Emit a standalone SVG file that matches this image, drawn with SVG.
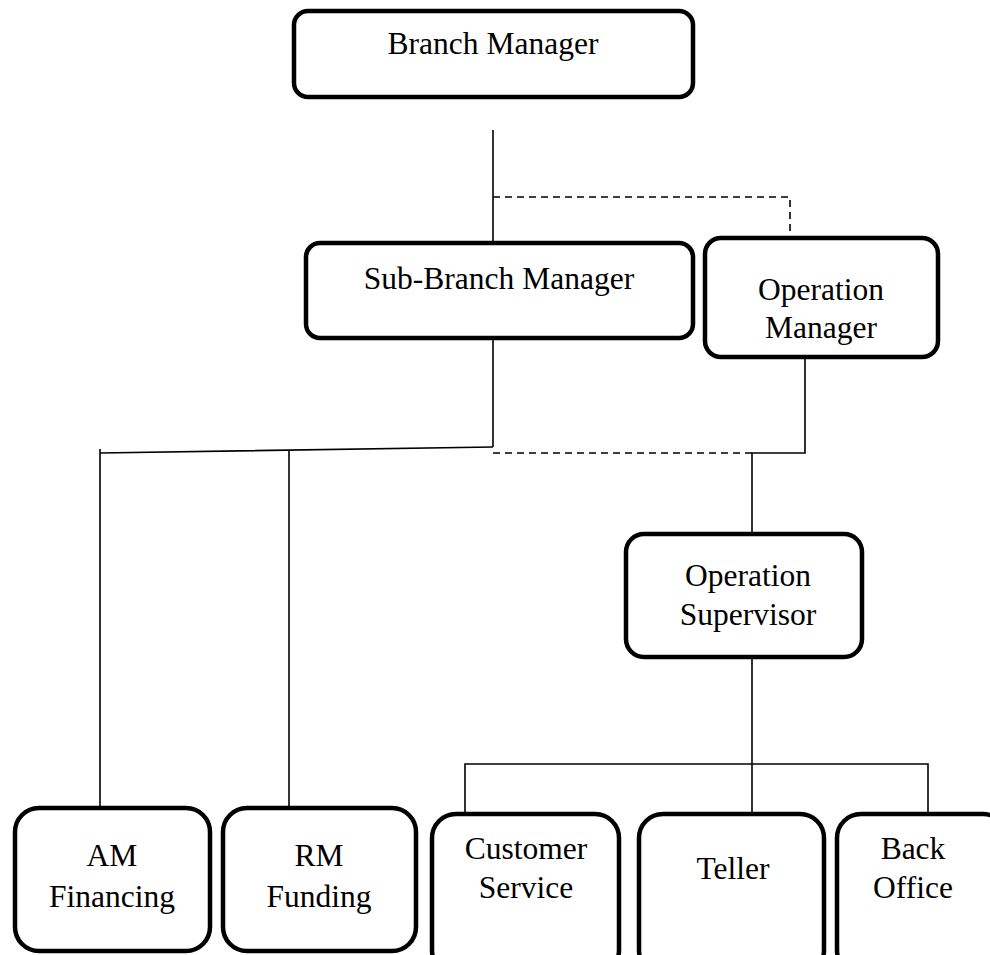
<svg xmlns="http://www.w3.org/2000/svg" width="990" height="955" viewBox="0 0 990 955">
<style>
.box{fill:#fff;stroke:#000;stroke-width:4.5}
.t{font-family:"Liberation Serif","Times New Roman",serif;font-size:31.5px;fill:#000;text-anchor:middle}
.c{stroke:#000;stroke-width:1.6;fill:none}
.d{stroke:#000;stroke-width:1.6;fill:none;stroke-dasharray:7,5}
</style>
<rect width="990" height="955" fill="#fff"/>
<g id="connectors">
<line class="c" x1="493" y1="130" x2="493" y2="243"/>
<polyline class="d" points="493,197 790,197 790,238"/>
<line class="c" x1="493" y1="338" x2="493" y2="447"/>
<polyline class="c" points="100,808 100,449 100,453 493,447"/>
<line class="c" x1="289" y1="451" x2="289" y2="808"/>
<line class="d" x1="493" y1="453" x2="752" y2="453"/>
<polyline class="c" points="805,357 805,453 752,453 752,534"/>
<line class="c" x1="752" y1="657" x2="752" y2="814"/>
<polyline class="c" points="465,814 465,764 928,764 928,814"/>
</g>
<g id="branch-manager">
<rect class="box" x="294" y="11" width="399" height="86" rx="14"/>
<text class="t" x="493" y="54">Branch Manager</text>
</g>
<g id="sub-branch-manager">
<rect class="box" x="306" y="243" width="387" height="95" rx="14"/>
<text class="t" x="499" y="289">Sub-Branch Manager</text>
</g>
<g id="operation-manager">
<rect class="box" x="705" y="238" width="233" height="119" rx="16"/>
<text class="t" x="821" y="300">Operation</text>
<text class="t" x="821" y="338">Manager</text>
</g>
<g id="operation-supervisor">
<rect class="box" x="626" y="534" width="236" height="123" rx="18"/>
<text class="t" x="748" y="586">Operation</text>
<text class="t" x="748" y="625">Supervisor</text>
</g>
<g id="am-financing">
<rect class="box" x="15" y="808" width="195" height="143" rx="24"/>
<text class="t" x="112" y="866">AM</text>
<text class="t" x="112" y="907">Financing</text>
</g>
<g id="rm-funding">
<rect class="box" x="223" y="808" width="193" height="143" rx="24"/>
<text class="t" x="319" y="866">RM</text>
<text class="t" x="319" y="907">Funding</text>
</g>
<g id="customer-service">
<rect class="box" x="432" y="814" width="187" height="160" rx="24"/>
<text class="t" x="526" y="859">Customer</text>
<text class="t" x="526" y="898">Service</text>
</g>
<g id="teller">
<rect class="box" x="639" y="814" width="185" height="160" rx="24"/>
<text class="t" x="733" y="879">Teller</text>
</g>
<g id="back-office">
<rect class="box" x="837" y="814" width="170" height="160" rx="24"/>
<text class="t" x="913" y="859">Back</text>
<text class="t" x="913" y="898">Office</text>
</g>
</svg>
